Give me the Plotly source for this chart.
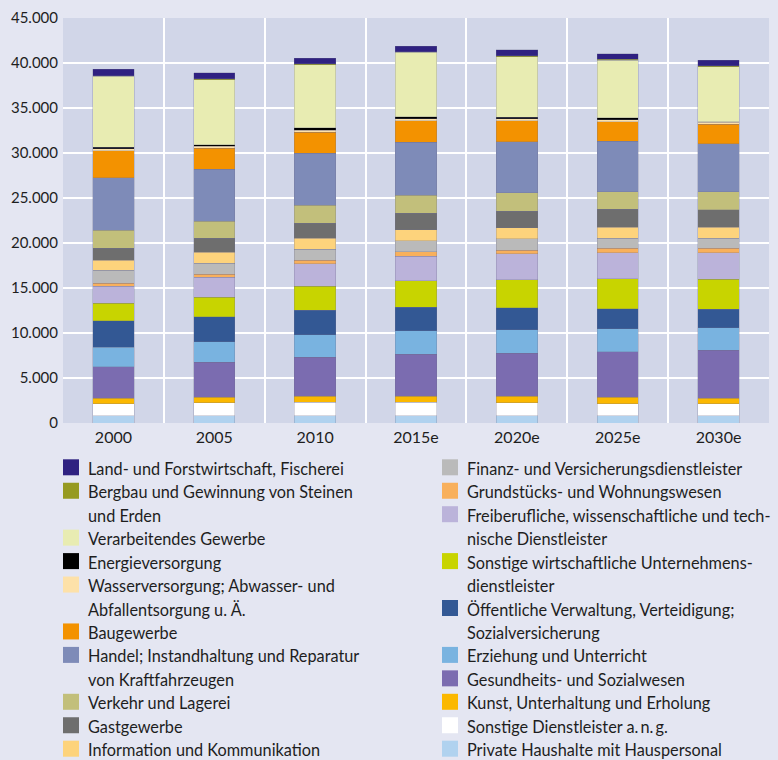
import plotly.graph_objects as go

years = ['2000', '2005', '2010', '2015e', '2020e', '2025e', '2030e']

# sectors, top of stack first (same order as the legend, column-wise)
sectors = [
    'Land- und Forstwirtschaft, Fischerei',
    'Bergbau und Gewinnung von Steinen<br>und Erden',
    'Verarbeitendes Gewerbe',
    'Energieversorgung',
    'Wasserversorgung; Abwasser- und<br>Abfallentsorgung u. Ä.',
    'Baugewerbe',
    'Handel; Instandhaltung und Reparatur<br>von Kraftfahrzeugen',
    'Verkehr und Lagerei',
    'Gastgewerbe',
    'Information und Kommunikation',
    'Finanz- und Versicherungsdienstleister',
    'Grundstücks- und Wohnungswesen',
    'Freiberufliche, wissenschaftliche und tech-<br>nische Dienstleister',
    'Sonstige wirtschaftliche Unternehmens-<br>dienstleister',
    'Öffentliche Verwaltung, Verteidigung;<br>Sozialversicherung',
    'Erziehung und Unterricht',
    'Gesundheits- und Sozialwesen',
    'Kunst, Unterhaltung und Erholung',
    'Sonstige Dienstleister a.\u2009n.\u2009g.',
    'Private Haushalte mit Hauspersonal',
]

colors = [
    '#2f2181', '#969a21', '#e8ecb2', '#000000', '#fde1a9',
    '#f39200', '#7e8bb8', '#c2bf7b', '#6e6e6e', '#fdd37c',
    '#bababa', '#f8b05c', '#bbb3da', '#c8d400', '#335894',
    '#79b3e0', '#7b6cb0', '#fbb800', '#ffffff', '#b0d2ef',
]

# employed persons (thousands), one list per sector, per year
land = [0.67, 0.67, 0.63, 0.59, 0.63, 0.63, 0.59]
bergbau = [0.10, 0.10, 0.10, 0.10, 0.10, 0.10, 0.10]
verarbeitend = [7.85, 7.22, 7.00, 7.15, 6.74, 6.41, 6.11]
energie = [0.19, 0.19, 0.26, 0.22, 0.19, 0.22, 0.11]
wasser = [0.22, 0.22, 0.26, 0.19, 0.19, 0.22, 0.19]
bau = [3.00, 2.33, 2.33, 2.44, 2.33, 2.19, 2.15]
handel = [5.85, 5.74, 5.78, 5.85, 5.70, 5.59, 5.33]
verkehr = [2.00, 1.89, 2.00, 2.00, 2.04, 1.96, 2.00]
gast = [1.33, 1.56, 1.63, 1.85, 1.85, 2.00, 1.96]
info = [1.11, 1.22, 1.22, 1.22, 1.22, 1.19, 1.22]
finanz = [1.41, 1.22, 1.26, 1.22, 1.26, 1.11, 1.11]
grund = [0.37, 0.37, 0.37, 0.52, 0.37, 0.52, 0.52]
freiberuf = [1.85, 2.22, 2.52, 2.70, 2.89, 2.89, 2.96]
sonst_wirt = [1.96, 2.15, 2.67, 2.96, 3.11, 3.33, 3.33]
oeffentlich = [2.96, 2.78, 2.70, 2.59, 2.48, 2.22, 2.04]
erziehung = [2.15, 2.30, 2.52, 2.63, 2.59, 2.56, 2.52]
gesundheit = [3.52, 3.89, 4.33, 4.67, 4.81, 5.07, 5.33]
kunst = [0.60, 0.59, 0.63, 0.63, 0.70, 0.70, 0.59]
sonst_dl = [1.33, 1.44, 1.52, 1.52, 1.44, 1.33, 1.33]
privat = [0.81, 0.81, 0.81, 0.81, 0.81, 0.81, 0.81]

values = [land, bergbau, verarbeitend, energie, wasser, bau, handel, verkehr,
          gast, info, finanz, grund, freiberuf, sonst_wirt, oeffentlich,
          erziehung, gesundheit, kunst, sonst_dl, privat]

W, H = 778, 760
ML, MR, MT, MB = 63, 9, 18, 337
font_family = 'Lato, "Noto Sans", sans-serif'
text_color = '#1e1e1e'

fig = go.Figure()
xs = list(range(len(years)))
# stack from bottom up -> add traces in reverse
for name, col, vals in reversed(list(zip(sectors, colors, values))):
    fig.add_trace(go.Bar(
        x=xs, y=[v * 1000 for v in vals], name=name,
        marker=dict(color=col, line=dict(color='rgba(110,110,140,0.45)', width=0.6)),
        width=0.41, showlegend=False,
    ))


# pixel -> paper helpers for the hand-made two-column legend
def px(x):
    return (x - ML) / (W - ML - MR)


def py(y):
    return (H - MB - y) / (H - MT - MB)


line_pitch = 23.45
first_line = 468.3
columns = [(sectors[:10], colors[:10], 63), (sectors[10:], colors[10:], 442)]
shapes = []
annotations = []
for names, cols, x0 in columns:
    y = first_line
    for name, col in zip(names, cols):
        shapes.append(dict(
            type='rect', xref='paper', yref='paper',
            x0=px(x0), x1=px(x0 + 16), y0=py(y - 9), y1=py(y + 7),
            fillcolor=col, line=dict(width=0), layer='above',
        ))
        for line in name.split('<br>'):
            annotations.append(dict(
                xref='paper', yref='paper', x=px(x0 + 23), y=py(y),
                text=line, showarrow=False, xanchor='left', yanchor='middle',
                font=dict(size=16.3, color=text_color, family=font_family),
            ))
            y += line_pitch

fig.update_layout(
    width=W, height=H,
    margin=dict(l=ML, r=MR, t=MT, b=MB, pad=0),
    barmode='stack',
    paper_bgcolor='#e4e6f2',
    plot_bgcolor='#d1d6e8',
    separators=',.',
    font=dict(family=font_family, size=16, color=text_color),
    shapes=shapes,
    annotations=annotations,
    xaxis=dict(
        range=[-0.5, len(years) - 0.5],
        tickvals=xs, ticktext=years,
        showgrid=False, zeroline=False, ticks='',
        tickfont=dict(size=16), ticklabelstandoff=3,
        minor=dict(tickvals=[i + 0.5 for i in xs[:-1]], showgrid=True,
                   gridcolor='white', gridwidth=1.5),
    ),
    yaxis=dict(
        range=[0, 45000], tickvals=list(range(0, 45001, 5000)),
        tickformat=',d', showgrid=True, gridcolor='white', gridwidth=1.5,
        zeroline=False, ticks='', tickfont=dict(size=15),
        ticklabelstandoff=4,
    ),
)

# the page's default body margin would push the 778x760 figure off-screen
fig.write_html("out.html", config={'displayModeBar': False},
               post_script="document.body.style.margin='0';")
